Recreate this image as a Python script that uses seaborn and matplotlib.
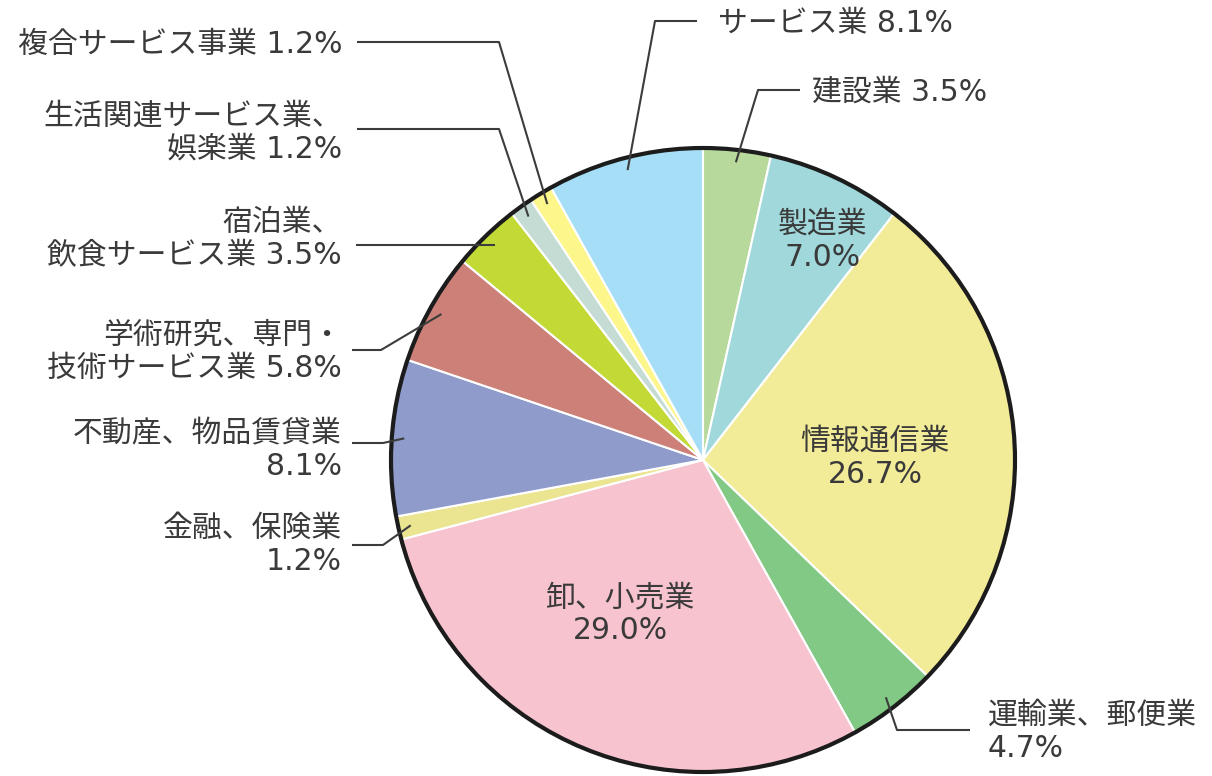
import numpy as np
import matplotlib
matplotlib.use('Agg')
import matplotlib.pyplot as plt
import seaborn as sns
from matplotlib.patches import Circle

# data (clockwise from 12 o'clock)
industries = ['建設業', '製造業', '情報通信業', '運輸業、郵便業', '卸、小売業', '金融、保険業',
              '不動産、物品賃貸業', '学術研究、専門・技術サービス業', '宿泊業、飲食サービス業',
              '生活関連サービス業、娯楽業', '複合サービス事業', 'サービス業']
shares = [3.5, 7.0, 26.7, 4.7, 29.0, 1.2, 8.1, 5.8, 3.5, 1.2, 1.2, 8.1]
labels = ['建設業 3.5%', '製造業\n7.0%', '情報通信業\n26.7%', '運輸業、郵便業\n4.7%',
          '卸、小売業\n29.0%', '金融、保険業\n1.2%', '不動産、物品賃貸業\n8.1%',
          '学術研究、専門・\n技術サービス業 5.8%', '宿泊業、\n飲食サービス業 3.5%',
          '生活関連サービス業、\n娯楽業 1.2%', '複合サービス事業 1.2%', 'サービス業 8.1%']
colors = ['#b7d99b', '#a1d8dc', '#f2ec98', '#82c985', '#f7c3cf', '#ebe491',
          '#8e9bcb', '#cc8078', '#c3d936', '#c5dcd5', '#fdf68a', '#a6def7']

sns.set_theme(style='white')
plt.rcParams['font.family'] = ['DejaVu Sans', 'Noto Sans CJK JP']

W, H = 1212, 776
fig = plt.figure(figsize=(W / 100, H / 100), dpi=100)
ax = fig.add_axes([0, 0, 1, 1])

def py(v):
    # pixel row -> data y
    return H - v

cx, cy, R = 703, py(460), 312
wedges, _ = ax.pie(shares, colors=sns.color_palette(colors), startangle=90, counterclock=False,
                   center=(cx, cy), radius=R,
                   wedgeprops=dict(edgecolor='white', linewidth=1.5))
ax.add_patch(Circle((cx, cy), R, fill=False, edgecolor='#1c1c1c', linewidth=3, zorder=5))

ax.set_xlim(0, W)
ax.set_ylim(0, H)
ax.set_aspect('equal')
ax.axis('off')

txt = '#3a3a3a'
fs = 21.5
ls = 1.17

# inside labels
inside = {1: (823, 241), 2: (875, 458), 4: (620, 614)}
for i, (x, y) in inside.items():
    ax.text(x, py(y), labels[i], ha='center', va='center', multialignment='center',
            fontsize=fs, color=txt, linespacing=ls, zorder=6)

# outside labels: index -> (text x, text y, ha, elbow x, elbow y, line end x)
outside = {
    10: (342, 44, 'right', 499, 42, 357),
    9: (342, 133, 'right', 499, 129, 357),
    8: (342, 239, 'right', None, None, 356),
    7: (342, 352, 'right', 381, 350, 352),
    6: (342, 450, 'right', 383, 443, 352),
    5: (342, 545, 'right', 383, 545, 352),
    11: (718, 23, 'left', 655, 21, 697),
    0: (812, 92, 'left', 758, 90, 800),
    3: (988, 732, 'left', 897, 730, 970),
}
for i, (tx, ty, ha, ex, ey, lx) in outside.items():
    w = wedges[i]
    mid = np.deg2rad((w.theta1 + w.theta2) / 2)
    axp = cx + 0.96 * R * np.cos(mid)
    ayp = cy + 0.96 * R * np.sin(mid)
    if ex is None:
        xs, ys = [axp, lx], [ayp, ayp]
    else:
        xs, ys = [axp, ex, lx], [ayp, py(ey), py(ey)]
    ax.plot(xs, ys, color='#3c3c3c', linewidth=1.5, solid_capstyle='butt', zorder=7)
    ax.text(tx, py(ty), labels[i], ha=ha, va='center', multialignment=ha,
            fontsize=fs, color=txt, linespacing=ls, zorder=6)

fig.savefig('out.png', dpi=100)
